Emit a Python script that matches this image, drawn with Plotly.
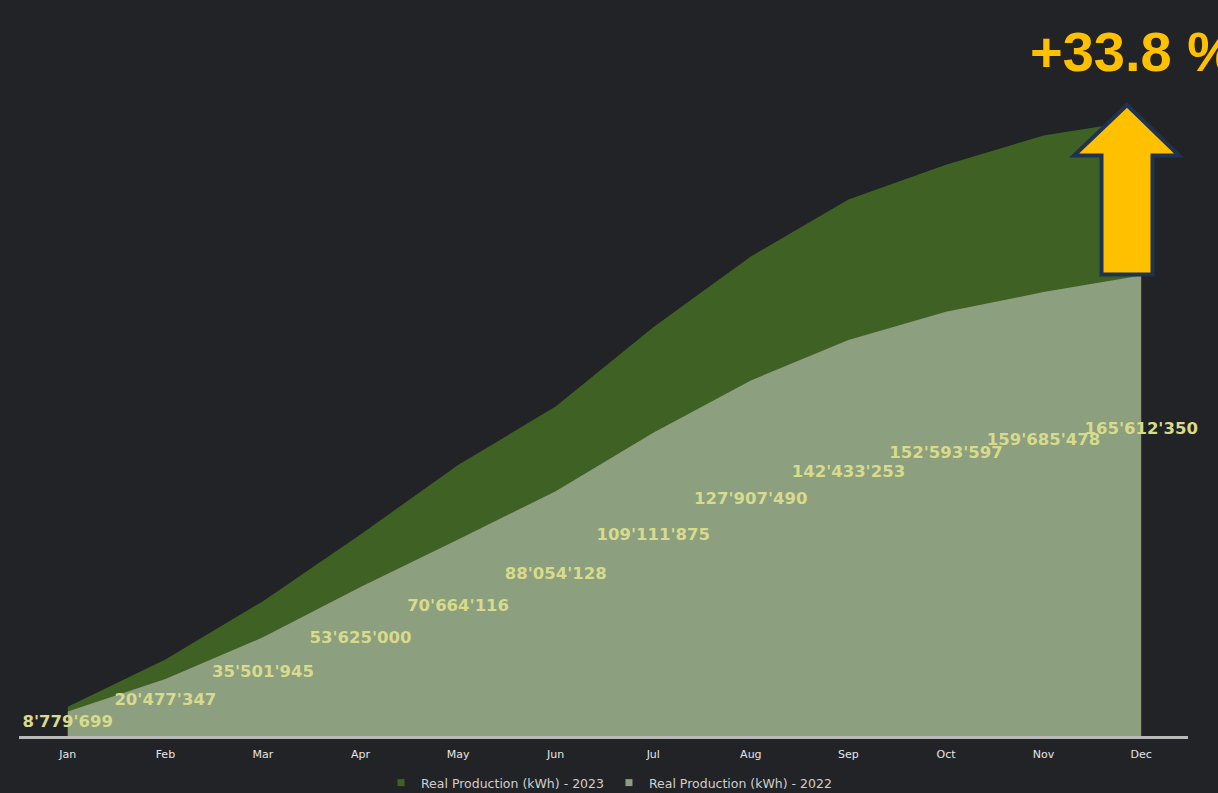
import plotly.graph_objects as go

months = ["Jan", "Feb", "Mar", "Apr", "May", "Jun", "Jul", "Aug", "Sep", "Oct", "Nov", "Dec"]
prod_2022 = [8779699, 20477347, 35501945, 53625000, 70664116, 88054128,
             109111875, 127907490, 142433253, 152593597, 159685478, 165612350]
prod_2023 = [10500000, 27500000, 48500000, 72500000, 97500000, 118500000,
             147000000, 172500000, 193000000, 205500000, 216000000, 221600000]
growth_label = "+33.8 %"
name_2023 = "Real Production (kWh) - 2023"
name_2022 = "Real Production (kWh) - 2022"

BG = "#222327"
GREEN = "#3f6224"
GREY = "#8c9f7f"
LABEL = "#d7db8b"

W, H = 1218, 793
ML, MR, MT, MB = 19, 30, 20, 57
PW, PH = W - ML - MR, H - MT - MB

fig = go.Figure()
fig.add_trace(go.Scatter(x=months, y=prod_2023, mode="lines", fill="tozeroy",
                         line=dict(width=0, color=GREEN), fillcolor=GREEN,
                         name=name_2023, showlegend=False, hoverinfo="skip"))
fig.add_trace(go.Scatter(x=months, y=prod_2022, mode="lines", fill="tozeroy",
                         line=dict(width=0, color=GREY), fillcolor=GREY,
                         name=name_2022, showlegend=False, hoverinfo="skip"))
fig.add_trace(go.Scatter(x=months, y=prod_2022, mode="text", yaxis="y2",
                         texttemplate="%{y:,}", textposition="middle center",
                         cliponaxis=False,
                         textfont=dict(family="DejaVu Sans", size=16.5, color=LABEL, weight="bold"),
                         showlegend=False, hoverinfo="skip"))
# legend entries
fig.add_trace(go.Scatter(x=[None], y=[None], mode="markers", name=name_2023,
                         marker=dict(symbol="square", size=7, color=GREEN)))
fig.add_trace(go.Scatter(x=[None], y=[None], mode="markers", name=name_2022,
                         marker=dict(symbol="square", size=7, color=GREY)))

def px(x):
    return (x - ML) / PW

def py(y):
    return (H - MB - y) / PH

arrow_pts = [(1127, 105), (1179, 155.5), (1152.5, 155.5), (1152.5, 274.5),
             (1101.5, 274.5), (1101.5, 155.5), (1074, 155.5)]
path = "M " + " L ".join(f"{px(x):.5f},{py(y):.5f}" for x, y in arrow_pts) + " Z"
fig.add_shape(type="path", xref="paper", yref="paper", path=path,
              fillcolor="#ffc000", line=dict(color="#1f3350", width=4), layer="above")

fig.add_annotation(xref="paper", yref="paper", x=px(1028), y=py(52),
                   xanchor="left", yanchor="middle", showarrow=False,
                   text=f"<b>{growth_label}</b>",
                   font=dict(family="Liberation Sans, Arial", size=56, color="#ffc000"))

y2_shift = 2.6e6
fig.update_layout(
    width=W, height=H,
    margin=dict(l=ML, r=MR, t=MT, b=MB, pad=0, autoexpand=False),
    paper_bgcolor=BG, plot_bgcolor=BG,
    separators=".'",
    showlegend=True,
    legend=dict(orientation="h", x=0.5, xanchor="center", xref="container",
                y=(H - 783) / H, yanchor="middle", yref="container",
                font=dict(family="DejaVu Sans", size=12.5, color="#cfcfcf"),
                bgcolor="rgba(0,0,0,0)", itemwidth=30),
    xaxis=dict(range=[-0.5, 11.48], showgrid=False, zeroline=False,
               showline=True, linecolor="#b8b8b8", linewidth=3,
               ticks="outside", ticklen=6, tickcolor=BG,
               tickfont=dict(family="DejaVu Sans", size=11, color="#e6e6e6")),
    yaxis=dict(range=[0, PH / 2.78 * 1e6], visible=False, showgrid=False, zeroline=False),
    yaxis2=dict(range=[-1.07e6 + y2_shift, (H - MB + 2 - MT) / 1.875 * 1e6 + y2_shift],
                overlaying="y", visible=False, showgrid=False, zeroline=False),
)

fig.write_html("out.html", config={"displayModeBar": False},
               post_script="document.body.style.margin='0';")
